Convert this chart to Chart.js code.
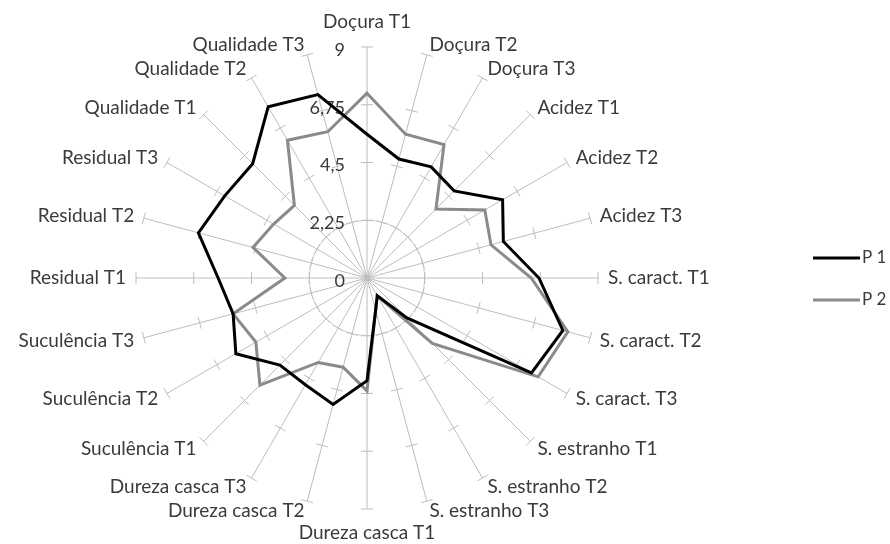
<!DOCTYPE html>
<html>
<head>
<meta charset="utf-8">
<script src="https://cdn.jsdelivr.net/npm/chart.js@4/dist/chart.umd.min.js"></script>
<style>
html, body { margin: 0; padding: 0; background: #fff; }
</style>
</head>
<body>
<canvas id="myChart" width="890" height="544"></canvas>
<script>
var categories = [
    'Doçura T1', 'Doçura T2', 'Doçura T3',
    'Acidez T1', 'Acidez T2', 'Acidez T3',
    'S. caract. T1', 'S. caract. T2', 'S. caract. T3',
    'S. estranho T1', 'S. estranho T2', 'S. estranho T3',
    'Dureza casca T1', 'Dureza casca T2', 'Dureza casca T3',
    'Suculência T1', 'Suculência T2', 'Suculência T3',
    'Residual T1', 'Residual T2', 'Residual T3',
    'Qualidade T1', 'Qualidade T2', 'Qualidade T3'
];
var seriesNames = ['P 1', 'P 2'];
var p1Values = [5.6, 4.8, 5.0, 4.8, 6.1, 5.5, 6.7, 7.9, 7.4, 2.2, 0.8, 1.3,
                4.0, 5.1, 4.8, 4.8, 5.9, 5.4, 5.8, 6.8, 6.4, 6.3, 7.7, 7.4];
var p2Values = [7.2, 5.8, 6.0, 3.8, 5.3, 5.0, 6.4, 8.1, 7.7, 3.6, 0.8, 1.3,
                4.4, 3.6, 3.8, 5.9, 5.0, 5.4, 3.2, 4.6, 4.2, 4.0, 6.2, 5.9];
var tickValues = [0, 2.25, 4.5, 6.75, 9];
var tickLabels = ['0', '2,25', '4,5', '6,75', '9'];

var textColor = '#3a3a3a';
var axisColor = '#bdbdbd';

// spoke tick marks, value labels, category labels and legend
var radarDecor = {
    id: 'radarDecor',
    beforeDatasetsDraw: function(chart) {
        var scale = chart.scales.r;
        var ctx = chart.ctx;
        ctx.save();
        ctx.strokeStyle = axisColor;
        ctx.lineWidth = 1;
        for (let i = 0; i < categories.length; i++) {
            tickValues.forEach(v => {
                if (v <= 0) return;
                const p = scale.getPointPosition(i, scale.getDistanceFromCenterForValue(v));
                const px = -Math.sin(p.angle) * 6;
                const py = Math.cos(p.angle) * 6;
                ctx.beginPath();
                ctx.moveTo(p.x - px, p.y - py);
                ctx.lineTo(p.x + px, p.y + py);
                ctx.stroke();
            });
        }
        ctx.fillStyle = textColor;
        ctx.font = '18px Lato';
        ctx.textAlign = 'right';
        ctx.textBaseline = 'middle';
        tickValues.forEach((v, k) => {
            const d = scale.getDistanceFromCenterForValue(v);
            ctx.fillText(tickLabels[k], scale.xCenter - 22, scale.yCenter - d + 3);
        });
        ctx.restore();
    },
    afterDraw: function(chart) {
        var scale = chart.scales.r;
        var ctx = chart.ctx;
        ctx.save();
        ctx.fillStyle = textColor;
        ctx.font = '19px Lato';
        ctx.textBaseline = 'middle';
        for (let i = 0; i < categories.length; i++) {
            const p = scale.getPointPosition(i, scale.drawingArea + 10);
            const a = i * 2 * Math.PI / categories.length;
            const s = Math.sin(a);
            let y = p.y;
            if (Math.abs(s) < 0.01) {
                ctx.textAlign = 'center';
                y += Math.cos(a) > 0 ? -15 : 14;
            } else {
                ctx.textAlign = s > 0 ? 'left' : 'right';
            }
            ctx.fillText(categories[i], p.x, y);
        }
        // legend
        ctx.font = '17px Lato';
        ctx.textAlign = 'left';
        chart.data.datasets.forEach((ds, k) => {
            const y = 258 + k * 42;
            ctx.strokeStyle = ds.borderColor;
            ctx.lineWidth = ds.borderWidth;
            ctx.beginPath();
            ctx.moveTo(813, y);
            ctx.lineTo(860, y);
            ctx.stroke();
            ctx.fillText(ds.label, 862, y);
        });
        ctx.restore();
    }
};

var ctx = document.getElementById('myChart');
var myRadarChart = new Chart(ctx, {
    type: 'radar',
    data: {
        labels: categories,
        datasets: [
            { label: seriesNames[0], data: p1Values, borderColor: '#000000', borderWidth: 3, fill: false },
            { label: seriesNames[1], data: p2Values, borderColor: '#8a8a8a', borderWidth: 3, fill: false }
        ]
    },
    options: {
        responsive: false,
        animation: false,
        layout: { padding: { left: 136, right: 292, top: 47, bottom: 35 } },
        elements: { line: { tension: 0 }, point: { radius: 0, hoverRadius: 0 } },
        plugins: { legend: { display: false }, tooltip: { enabled: false } },
        scales: {
            r: {
                min: 0,
                max: 9,
                ticks: { display: false, stepSize: 2.25 },
                pointLabels: { display: false },
                angleLines: { color: axisColor, lineWidth: 1 },
                grid: {
                    circular: true,
                    color: c => (c.tick && Math.abs(c.tick.value - 2.25) < 0.001) ? '#cfcfcf' : 'rgba(0,0,0,0)'
                }
            }
        }
    },
    plugins: [radarDecor]
});
</script>
</body>
</html>
